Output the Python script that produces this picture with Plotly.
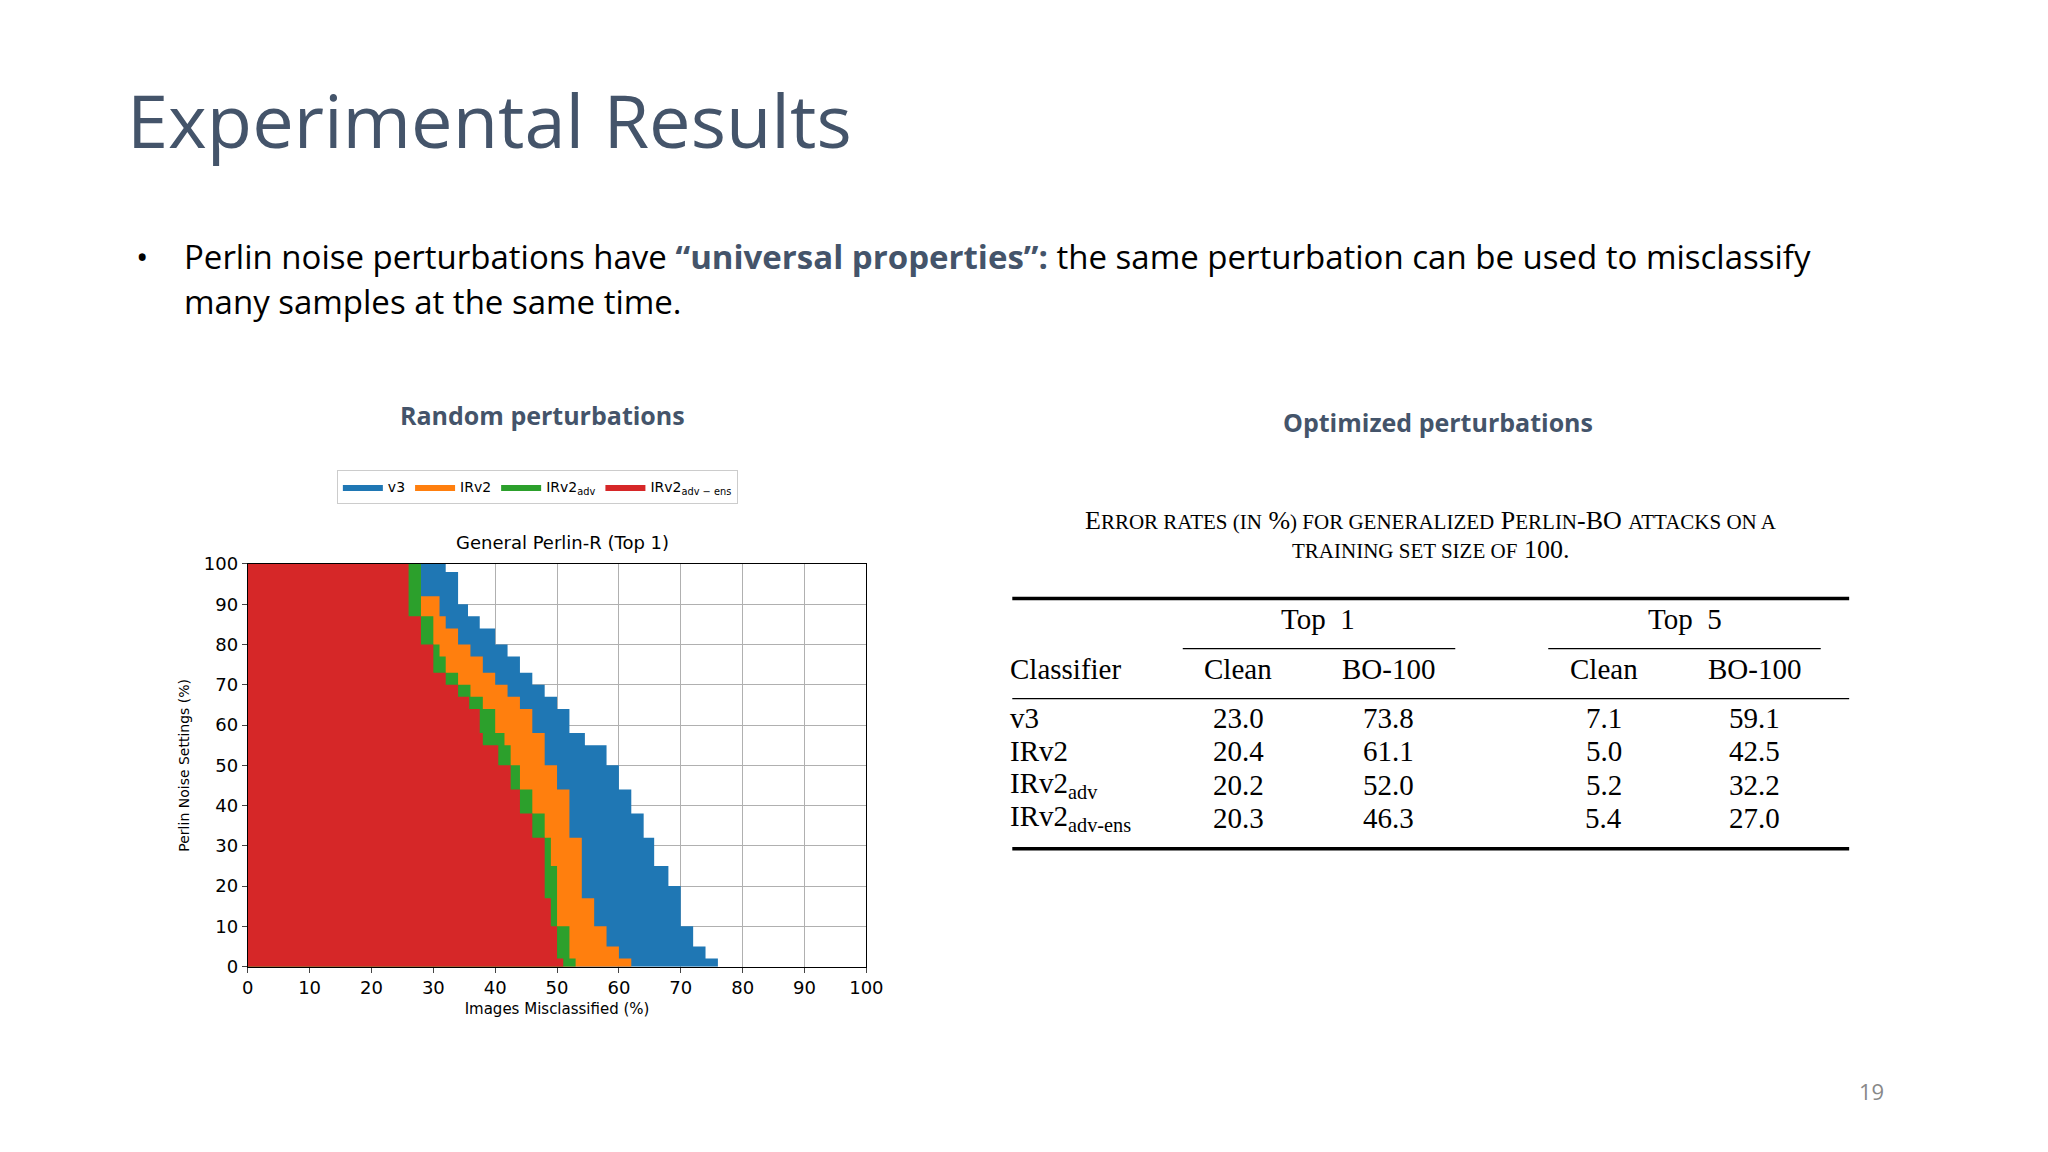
import plotly.graph_objects as go

# y levels (Perlin noise settings, %) and x edges (images misclassified, %) per model
levels = [0, 2, 5, 10, 17, 20, 25, 32, 38, 44, 50, 55, 58, 64, 67, 70, 73, 77, 80, 84, 87, 90, 92, 98, 100]
v3_edge = [76, 74, 72, 70, 70, 68, 65.7, 64, 62, 60, 58, 54.5, 52, 50, 48, 46, 44, 42, 40, 37.5, 35.6, 34, 34, 32, 32]
irv2_edge = [62, 60, 58, 56, 54, 54, 54, 52, 52, 50, 48, 48, 46, 44, 42, 40, 38, 36, 34, 32, 31, 31, 28, 28, 28]
irv2adv_edge = [53, 52, 52, 50, 50, 50, 49, 48, 46, 44, 42.5, 41.5, 40, 38, 36, 34, 32, 31, 30, 30, 28, 28, 28, 28, 28]
ens_edge = [51, 50, 50, 49, 48, 48, 48, 46, 44, 42.5, 40.5, 38, 37.5, 35.8, 34, 32, 30, 30, 28, 28, 26, 26, 26, 26, 26]

series_names = ["v3", "IRv2", "IRv2<sub>adv</sub>", "IRv2<sub>adv − ens</sub>"]
series_colors = ["#1f77b4", "#ff7f0e", "#2ca02c", "#d62728"]
series_edges = [v3_edge, irv2_edge, irv2adv_edge, ens_edge]

table_cols = ["Classifier", "Clean", "BO-100", "Clean", "BO-100"]
table_rows = ["v3", "IRv2", "IRv2<sub>adv</sub>", "IRv2<sub>adv-ens</sub>"]
top1_clean = ["23.0", "20.4", "20.2", "20.3"]
top1_bo = ["73.8", "61.1", "52.0", "46.3"]
top5_clean = ["7.1", "5.0", "5.2", "5.4"]
top5_bo = ["59.1", "42.5", "32.2", "27.0"]

W, H = 2048, 1152
def P(x): return x / 1568
def Q(y): return 1 - y / 882
def QA(y): return 1 - (y - 12) / 882
def QT(y): return 1 - (y - 8) / 882
def QS(y): return 1 - (y - 4) / 882

def steps(edge):
    xs, ys = [0], [0]
    for i in range(len(levels) - 1):
        xs += [edge[i], edge[i]]
        ys += [levels[i], levels[i + 1]]
    xs += [edge[-1], 0]
    ys += [levels[-1], levels[-1]]
    return xs, ys

fig = go.Figure()
for name, col, edge in zip(series_names, series_colors, series_edges):
    xs, ys = steps(edge)
    fig.add_trace(go.Scatter(x=xs, y=ys, fill="toself", fillcolor=col, mode="lines",
                             line=dict(width=0, color=col), name=name, hoverinfo="skip"))

SANS = "Open Sans, Noto Sans, sans-serif"
SERIF = "Liberation Serif, serif"
TC = "#44546A"

fig.update_layout(
    width=W, height=H, paper_bgcolor="white", plot_bgcolor="white",
    margin=dict(l=0, r=0, t=0, b=0),
    xaxis=dict(domain=[P(181), P(660)], range=[0, 100], dtick=10, showgrid=True, gridcolor="#b0b0b0",
               gridwidth=1, showline=True, linecolor="black", mirror=True, ticks="outside", ticklen=5,
               tickfont=dict(family="DejaVu Sans", size=18, color="black"),
               title=dict(text="Images Misclassified (%)", font=dict(family="DejaVu Sans", size=15, color="black"), standoff=6)),
    yaxis=dict(domain=[Q(739), Q(425)], range=[0, 100], dtick=10, showgrid=True, gridcolor="#b0b0b0",
               gridwidth=1, showline=True, linecolor="black", mirror=True, ticks="outside", ticklen=5,
               tickfont=dict(family="DejaVu Sans", size=18, color="black"),
               title=dict(text="Perlin Noise Settings (%)", font=dict(family="DejaVu Sans", size=14, color="black"), standoff=10)),
    legend=dict(orientation="h", x=P(250), y=Q(352), xanchor="left", yanchor="top",
                bordercolor="#cccccc", borderwidth=1, font=dict(family="DejaVu Sans", size=14, color="black"),
                itemwidth=40, traceorder="normal"),
    showlegend=True,
)
fig.update_xaxes(layer="above traces")
fig.update_yaxes(layer="above traces")

ann = []
def A(x, y, text, size, color="black", family=SANS, xanchor="left", yanchor="middle", q=QA):
    ann.append(dict(x=P(x), y=q(y), xref="paper", yref="paper", text=text, showarrow=False,
                    font=dict(size=size, color=color, family=family), xanchor=xanchor, yanchor=yanchor))

A(86, 90, "Experimental Results", 74, TC)
A(93, 197, "•", 33, "black")
A(130, 197, "Perlin noise perturbations have <b><span style='color:#44546A'>“universal properties”:</span></b> the same perturbation can be used to misclassify", 33)
A(130, 232, "many samples at the same time.", 33)
A(409, 321, "<b>Random perturbations</b>", 25, TC, xanchor="center")
A(1103, 326, "<b>Optimized perturbations</b>", 25, TC, xanchor="center")
A(425, 420, "General Perlin-R (Top 1)", 18, "black", "DejaVu Sans", xanchor="center")
A(1438, 848, "19", 22, "#888888", xanchor="center")

A(1097, 399, "E<span style='font-size:21px'>RROR RATES (IN</span> %<span style='font-size:21px'>) FOR GENERALIZED</span> P<span style='font-size:21px'>ERLIN</span>-BO <span style='font-size:21px'>ATTACKS ON A</span>", 26, "black", SERIF, xanchor="center", q=QT)
A(1097, 422, "<span style='font-size:21px'>TRAINING SET SIZE OF</span> 100.", 26, "black", SERIF, xanchor="center", q=QT)

A(1010, 476, "Top  1", 29, "black", SERIF, xanchor="center", q=QT)
A(1294, 476, "Top  5", 29, "black", SERIF, xanchor="center", q=QT)
col_x = [770, 948, 1064, 1231, 1348]
for i, c in enumerate(table_cols):
    A(col_x[i], 515, c, 29, "black", SERIF, xanchor="left" if i == 0 else "center", q=QT)
row_y = [553, 579, 605, 631]
for r in range(4):
    A(770, row_y[r], table_rows[r], 29, "black", SERIF, q=QT)
    for j, v in enumerate([top1_clean[r], top1_bo[r], top5_clean[r], top5_bo[r]]):
        A(col_x[j + 1], row_y[r], v, 29, "black", SERIF, xanchor="center", q=QT)

shapes = []
def L(x0, x1, y, w):
    shapes.append(dict(type="line", xref="paper", yref="paper", x0=P(x0), x1=P(x1), y0=QS(y), y1=QS(y),
                       line=dict(color="black", width=w)))
L(773, 1421, 456, 3.5)
L(905, 1116, 495, 1.3)
L(1188, 1399, 495, 1.3)
L(773, 1421, 534, 1.3)
L(773, 1421, 651, 3.5)

fig.update_layout(annotations=ann, shapes=shapes)
fig.write_html("out.html")
